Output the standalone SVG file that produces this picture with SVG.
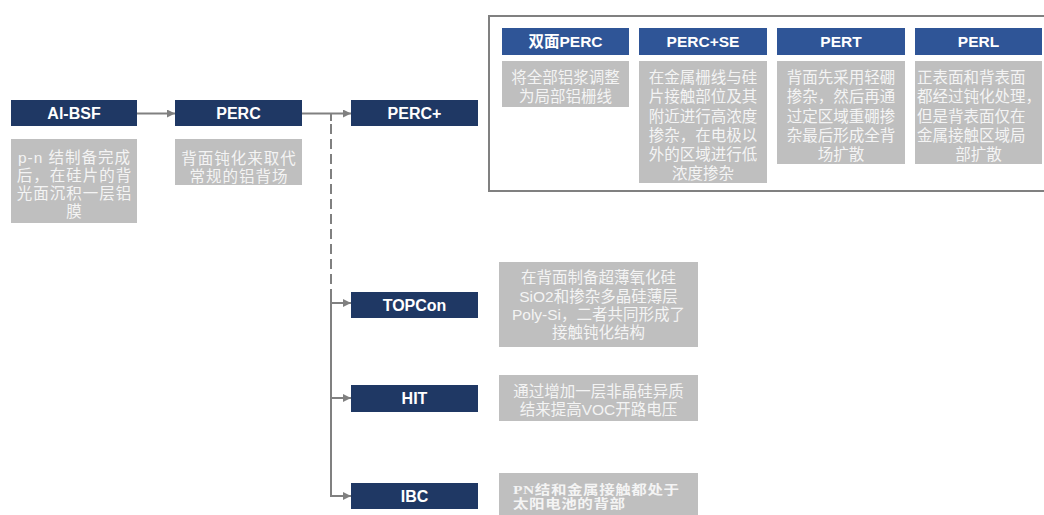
<svg xmlns="http://www.w3.org/2000/svg" width="1044" height="515" viewBox="0 0 1044 515">
<defs>
<style>
.nav{fill:#1F3864}
.hdr{fill:#2F5597}
.gry{fill:#BFBFBF}
.ht{font-family:"Liberation Sans","Noto Sans CJK SC",sans-serif;font-weight:bold;font-size:16px;fill:#FFFFFF;text-anchor:middle}
.ds{font-family:"Liberation Sans","Noto Sans CJK SC",sans-serif;font-size:15.5px;fill:#F4F4F4;text-anchor:middle}
.sp{letter-spacing:1px}
.ln{stroke:#808080;stroke-width:2;fill:none}
.ib{font-family:"Liberation Serif","Noto Sans CJK SC",serif;font-weight:bold;font-size:15.5px;fill:#F4F4F4;letter-spacing:0.6px}
</style>
<marker id="ah" viewBox="0 0 10 10" refX="10" refY="5" markerWidth="4" markerHeight="4" orient="auto" markerUnits="strokeWidth">
<path d="M0,0 L10,5 L0,10 z" fill="#808080"/>
</marker>
</defs>
<rect width="1044" height="515" fill="#FFFFFF"/>

<g id="connectors">
<line class="ln" x1="137" y1="113.5" x2="175" y2="113.5" marker-end="url(#ah)"/>
<line class="ln" x1="302" y1="113.5" x2="351" y2="113.5" marker-end="url(#ah)"/>
<line class="ln" x1="331" y1="113.5" x2="331" y2="121"/>
<line class="ln" x1="331" y1="124" x2="331" y2="289" stroke-dasharray="10,5"/>
<polyline class="ln" points="331,289 331,496 351,496" marker-end="url(#ah)"/>
<line class="ln" x1="331" y1="303" x2="351" y2="303" marker-end="url(#ah)"/>
<line class="ln" x1="331" y1="398" x2="351" y2="398" marker-end="url(#ah)"/>
</g>

<g id="frame">
<rect x="489" y="16" width="570" height="175" fill="none" stroke="#808080" stroke-width="2"/>
</g>

<g id="albsf">
<rect class="nav" x="11" y="100" width="126" height="26"/>
<text class="ht" x="74" y="119">Al-BSF</text>
<rect class="gry" x="11" y="139" width="126" height="84"/>
<text class="ds sp" x="74.5" y="163">p-n 结制备完成</text>
<text class="ds sp" x="74.5" y="181">后，在硅片的背</text>
<text class="ds sp" x="74.5" y="199">光面沉积一层铝</text>
<text class="ds sp" x="74.5" y="217">膜</text>
</g>

<g id="perc">
<rect class="nav" x="175" y="100" width="127" height="26"/>
<text class="ht" x="238.5" y="119">PERC</text>
<rect class="gry" x="175" y="139" width="127" height="46"/>
<text class="ds sp" x="239" y="164">背面钝化来取代</text>
<text class="ds sp" x="239" y="182">常规的铝背场</text>
</g>

<g id="percplus">
<rect class="nav" x="351" y="100" width="127" height="26"/>
<text class="ht" x="414.5" y="119">PERC+</text>
</g>

<g id="bifacial">
<rect class="hdr" x="502" y="28" width="127" height="27"/>
<text class="ht" x="565.5" y="47" style="font-size:15.5px">双面PERC</text>
<rect class="gry" x="502" y="61" width="127" height="46"/>
<text class="ds" x="565.5" y="83">将全部铝浆调整</text>
<text class="ds" x="565.5" y="102">为局部铝栅线</text>
</g>

<g id="percse">
<rect class="hdr" x="639" y="28" width="128" height="27"/>
<text class="ht" x="703" y="47" style="font-size:15.5px">PERC+SE</text>
<rect class="gry" x="639" y="61" width="128" height="122"/>
<text class="ds" x="703" y="83">在金属栅线与硅</text>
<text class="ds" x="703" y="102">片接触部位及其</text>
<text class="ds" x="703" y="122">附近进行高浓度</text>
<text class="ds" x="703" y="141">掺杂，在电极以</text>
<text class="ds" x="703" y="160">外的区域进行低</text>
<text class="ds" x="703" y="179">浓度掺杂</text>
</g>

<g id="pert">
<rect class="hdr" x="777" y="28" width="128" height="27"/>
<text class="ht" x="841" y="47" style="font-size:15.5px">PERT</text>
<rect class="gry" x="777" y="61" width="128" height="103"/>
<text class="ds" x="841" y="83">背面先采用轻硼</text>
<text class="ds" x="841" y="102">掺杂，然后再通</text>
<text class="ds" x="841" y="122">过定区域重硼掺</text>
<text class="ds" x="841" y="141">杂最后形成全背</text>
<text class="ds" x="841" y="160">场扩散</text>
</g>

<g id="perl">
<rect class="hdr" x="915" y="28" width="127" height="27"/>
<text class="ht" x="978.5" y="47" style="font-size:15.5px">PERL</text>
<rect class="gry" x="915" y="61" width="127" height="103"/>
<text class="ds" x="917" y="83" style="text-anchor:start">正表面和背表面</text>
<text class="ds" x="917" y="102" style="text-anchor:start">都经过钝化处理，</text>
<text class="ds" x="917" y="122" style="text-anchor:start">但是背表面仅在</text>
<text class="ds" x="917" y="141" style="text-anchor:start">金属接触区域局</text>
<text class="ds" x="978.5" y="160">部扩散</text>
</g>

<g id="topcon">
<rect class="nav" x="351" y="292" width="127" height="26"/>
<text class="ht" x="414.5" y="311">TOPCon</text>
<rect class="gry" x="499" y="262" width="199" height="85"/>
<text class="ds" x="598.5" y="283">在背面制备超薄氧化硅</text>
<text class="ds" x="598.5" y="302">SiO2和掺杂多晶硅薄层</text>
<text class="ds" x="598.5" y="320">Poly-Si，二者共同形成了</text>
<text class="ds" x="598.5" y="338">接触钝化结构</text>
</g>

<g id="hit">
<rect class="nav" x="351" y="385" width="127" height="27"/>
<text class="ht" x="414.5" y="404">HIT</text>
<rect class="gry" x="499" y="375" width="199" height="46"/>
<text class="ds" x="598.5" y="397">通过增加一层非晶硅异质</text>
<text class="ds" x="598.5" y="415">结来提高VOC开路电压</text>
</g>

<g id="ibc">
<rect class="nav" x="351" y="483" width="127" height="26"/>
<text class="ht" x="414.5" y="502">IBC</text>
<rect class="gry" x="499" y="473" width="199" height="42"/>
<text class="ib" transform="translate(513,494) scale(1,0.82)">PN结和金属接触都处于</text>
<text class="ib" transform="translate(513,508) scale(1,0.82)">太阳电池的背部</text>
</g>
</svg>
